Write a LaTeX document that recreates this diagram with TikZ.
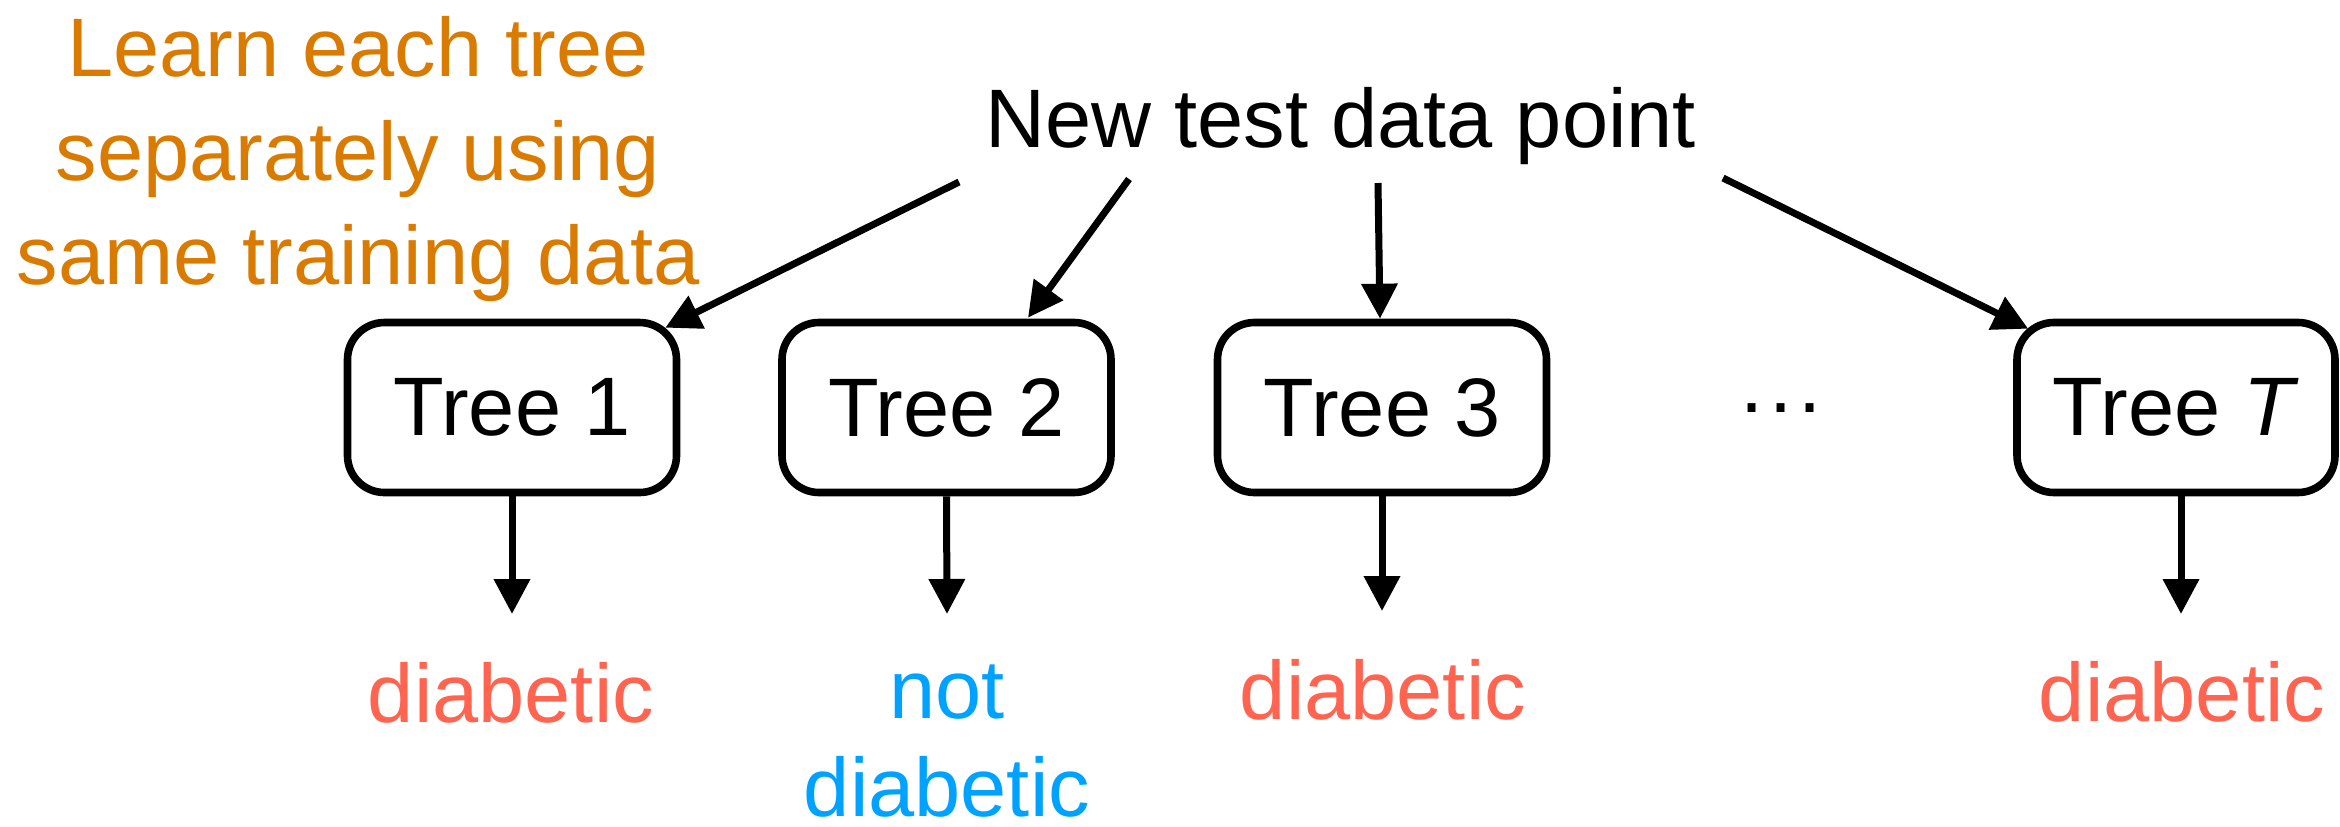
\documentclass[tikz,border=0pt]{standalone}
\usepackage{fontspec}
\setmainfont{Liberation Sans}
\usetikzlibrary{arrows.meta,calc}
\definecolor{orangeT}{RGB}{217,123,0}
\definecolor{redT}{RGB}{255,100,80}
\definecolor{blueT}{RGB}{0,162,255}
\tikzset{
  treebox/.style={draw, line width=3.8pt, rounded corners=18.5pt,
    minimum width=164.5pt, minimum height=85pt, inner sep=0pt},
  txt/.style={anchor=base, inner sep=0pt},
  conn/.style={draw, line width=3.5pt, -{Triangle[length=17.5pt,width=17.5pt]}},
}
\begin{document}
\begin{tikzpicture}[x=0.5pt,y=-0.5pt,font=\fontsize{41.5pt}{52pt}\selectfont]
\useasboundingbox (0,0) rectangle (2340,826);

% orange note
\node[txt, text=orangeT] (n1) at (358,76) {Learn each tree};
\node[txt, text=orangeT] (n2) at (358,180) {separately using};
\node[txt, text=orangeT] (n3) at (358,284) {same training data};

% test point
\node[anchor=base west, inner sep=0pt] (q) at (985,147) {New test data point};

% trees
\node[treebox] (t1) at (512,407.5) {Tree 1};
\node[treebox] (t2) at (946.5,407.5) {Tree 2};
\node[treebox] (t3) at (1382,407.5) {Tree 3};
\node[treebox, minimum width=159pt] (tT) at (2176,407.5) {Tree \textit{T}};
\node[txt] (dots) at (1781,412) {.\kern3pt.\kern3pt.};

% outputs
\node[txt, text=redT] (l1) at (511,722) {diabetic};
\node[txt, text=blueT] (l2a) at (947,718) {not};
\node[txt, text=blueT] (l2b) at (947,816) {diabetic};
\node[txt, text=redT] (l3) at (1383,719) {diabetic};
\node[txt, text=redT] (lT) at (2182,721) {diabetic};

% arrow start points
\coordinate (s1) at (959,182);
\coordinate (s2) at (1129,179);
\coordinate (s3) at (1378,183);
\coordinate (s4) at (1723,178);
\coordinate (d1) at (512,614);
\coordinate (d2) at (947,614);
\coordinate (d3) at (1382,611);
\coordinate (dT) at (2181,614);

\draw[conn] (s1) -- ($(t1.north east)+(-15,9)$);
\draw[conn] (s2) -- ($(t2.north)+(81.5,-1)$);
\draw[conn] (s3) -- ($(t3.north)+(-2,0)$);
\draw[conn] (s4) -- ($(tT.north west)+(15,10)$);

\draw[conn] (t1.south) -- (d1);
\draw[conn] (t2.south) -- (d2);
\draw[conn] (t3.south) -- (d3);
\draw[conn] ($(tT.south)+(5,0)$) -- (dT);
\end{tikzpicture}
\end{document}
